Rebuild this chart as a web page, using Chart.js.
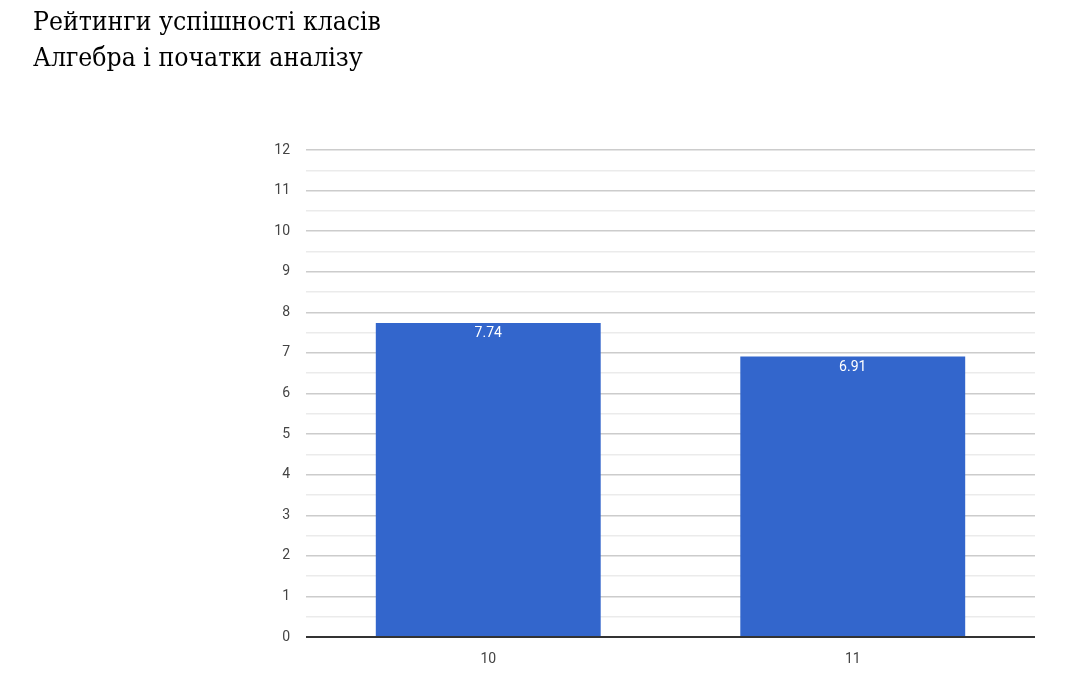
<!DOCTYPE html>
<html>
<head>
<meta charset="utf-8">
<title>Рейтинги успішності класів</title>
<script src="https://cdn.jsdelivr.net/npm/chart.js@4/dist/chart.umd.min.js"></script>
<style>
  html, body { margin: 0; padding: 0; background: #fff; }
  #chart { display: block; }
</style>
</head>
<body>
<canvas id="chart" width="1066" height="681"></canvas>
<script>
// chart data
const titleLines = ["Рейтинги успішності класів", "Алгебра і початки аналізу"];
const classes = ["10", "11"];
const scores = [7.74, 6.91];
const yMax = 12;

// white value label just inside the top of each bar
const barValueLabels = {
  id: "barValueLabels",
  afterDatasetsDraw(chart) {
    const ctx = chart.ctx;
    const meta = chart.getDatasetMeta(0);
    ctx.save();
    ctx.fillStyle = "#ffffff";
    ctx.font = "14px Roboto, sans-serif";
    ctx.textAlign = "center";
    ctx.textBaseline = "middle";
    meta.data.forEach((bar, i) => {
      ctx.fillText(String(scores[i]), bar.x, bar.y + 11);
    });
    ctx.restore();
  },
};

const ctx = document.getElementById("chart").getContext("2d");
new Chart(ctx, {
  type: "bar",
  data: {
    labels: classes,
    datasets: [
      {
        data: scores,
        backgroundColor: "#3366cc",
        borderWidth: 0,
        categoryPercentage: 1,
        barPercentage: 0.617,
      },
    ],
  },
  options: {
    responsive: false,
    animation: false,
    layout: { padding: { left: 33, right: 31, top: 5, bottom: 0 } },
    plugins: {
      legend: { display: false },
      tooltip: { enabled: false },
      title: {
        display: true,
        text: titleLines,
        align: "start",
        color: "#000000",
        font: { family: "'DejaVu Serif Condensed', 'DejaVu Serif', serif", size: 26.3, weight: "normal", lineHeight: 1.37 },
        padding: { top: 0, bottom: 73 },
      },
    },
    scales: {
      x: {
        grid: { display: false },
        border: { display: false },
        ticks: {
          color: "#444444",
          font: { family: "Roboto, sans-serif", size: 14 },
          padding: 6,
        },
        afterFit(scale) {
          scale.height = 44;
        },
      },
      y: {
        min: 0,
        max: yMax,
        border: { display: false },
        grid: {
          drawTicks: false,
          color: (c) => {
            const v = c.tick.value;
            if (v === 0) return "#333333";
            return Number.isInteger(v) ? "#cccccc" : "#ebebeb";
          },
          lineWidth: (c) => (c.tick.value === 0 ? 2 : 1.5),
        },
        ticks: {
          stepSize: 0.5,
          autoSkip: false,
          color: "#444444",
          font: { family: "Roboto, sans-serif", size: 14 },
          padding: 16,
          callback: (v) => (Number.isInteger(v) ? v : ""),
        },
        afterFit(scale) {
          scale.width = 273;
        },
      },
    },
  },
  plugins: [barValueLabels],
});
</script>
</body>
</html>
